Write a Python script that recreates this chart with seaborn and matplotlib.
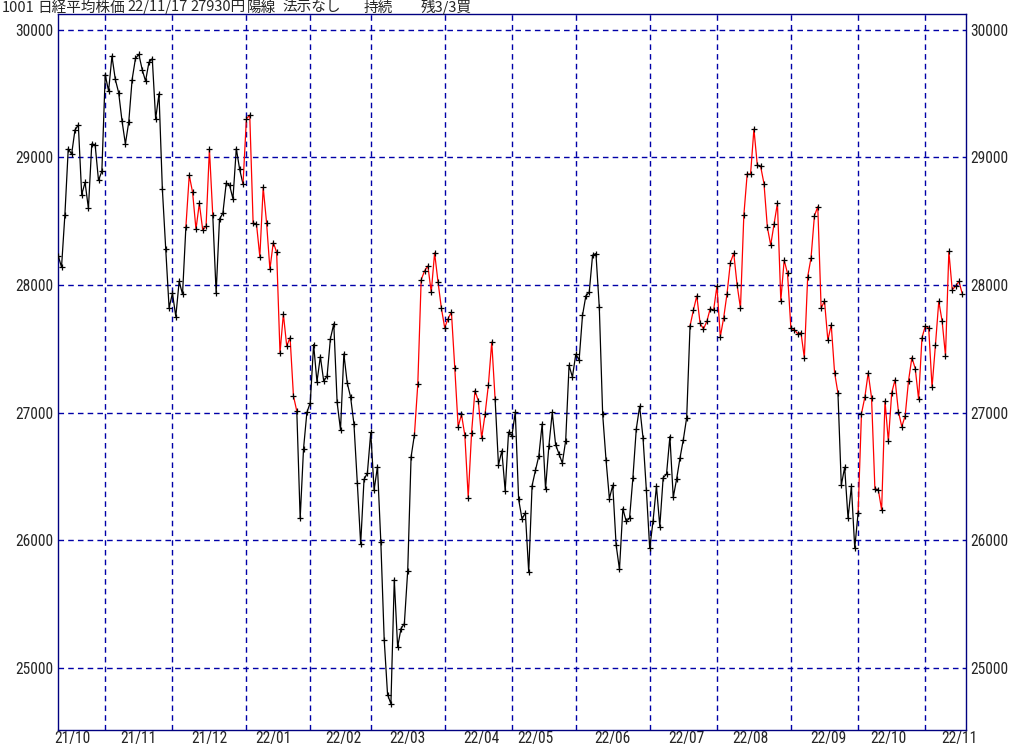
import numpy as np
import pandas as pd
import matplotlib
matplotlib.use("Agg")
import matplotlib.pyplot as plt
from matplotlib import font_manager as fm
import seaborn as sns

# ---- data: daily closes (Nikkei 225), by month ----
oct21 = [28230, 28140, 28550, 29068, 29025, 29215, 29255, 28708, 28804, 28600, 29106, 29098, 28820, 28892]
nov21 = [29647, 29520, 29794, 29611, 29507, 29285, 29106, 29277, 29610, 29776, 29808, 29688, 29598, 29745,
         29774, 29302, 29499, 28751, 28283, 27821]
dec21 = [27935, 27753, 28029, 27927, 28455, 28860, 28725, 28437, 28640, 28432, 28459, 29066, 28545, 27937,
         28517, 28562, 28798, 28782, 28676, 29069, 28906, 28791]
jan22 = [29301, 29332, 28487, 28478, 28222, 28765, 28489, 28124, 28333, 28257, 27467, 27772, 27522, 27588,
         27131, 27011, 26170, 26717, 27001]
feb22 = [27078, 27533, 27241, 27439, 27248, 27284, 27579, 27696, 27079, 26865, 27460, 27232, 27122, 26910,
         26449, 25970, 26476, 26526]
mar22 = [26844, 26393, 26577, 25985, 25221, 24790, 24717, 25690, 25162, 25307, 25346, 25762, 26652, 26827,
         27224, 28040, 28110, 28149, 27943, 28252, 28027, 27821]
apr22 = [27665, 27736, 27787, 27350, 26889, 26985, 26821, 26334, 26843, 27172, 27093, 26799, 26985, 27217,
         27553, 27105, 26590, 26700, 26386, 26847]
may22 = [26818, 27003, 26319, 26167, 26213, 25748, 26427, 26547, 26659, 26911, 26402, 26739, 27001, 26748,
         26677, 26604, 26781, 27369, 27279]
jun22 = [27457, 27413, 27761, 27915, 27943, 28234, 28246, 27824, 26987, 26629, 26326, 26431, 25963, 25771,
         26246, 26149, 26171, 26491, 26871, 27049, 26804, 26393]
jul22 = [25935, 26153, 26423, 26107, 26490, 26517, 26812, 26336, 26478, 26643, 26788, 26961, 27680, 27803,
         27914, 27699, 27655, 27715, 27815, 27801]
aug22 = [27993, 27594, 27742, 27932, 28176, 28249, 27999, 27819, 28546, 28871, 28868, 29222, 28942, 28930,
         28794, 28452, 28313, 28479, 28641, 27878, 28195, 28091]
sep22 = [27661, 27650, 27619, 27626, 27430, 28065, 28214, 28542, 28614, 27818, 27875, 27567, 27688, 27313,
         27153, 26431, 26571, 26173, 26422, 25937]
oct22 = [26215, 26992, 27120, 27311, 27116, 26401, 26397, 26237, 27090, 26775, 27156, 27257, 27006, 26890,
         26974, 27250, 27431, 27345, 27105, 27587]
nov22 = [27678, 27663, 27199, 27527, 27872, 27716, 27446, 28263, 27963, 27990, 28028, 27930]

months = [oct21, nov21, dec21, jan22, feb22, mar22, apr22, may22, jun22, jul22, aug22, sep22, oct22, nov22]
month_labels = ["21/10", "21/11", "21/12", "22/01", "22/02", "22/03", "22/04",
                "22/05", "22/06", "22/07", "22/08", "22/09", "22/10", "22/11"]
# label centres (trading-day index) as placed on the reference
label_pos = [4.1, 24.0, 45.1, 64.1, 84.8, 104.0, 125.9, 142.0, 165.0, 186.9, 206.0, 229.1, 247.1, 268.1]
# trading-day index ranges (segment end) where the signal is "red"
red_spans = [(39, 46), (56, 71), (107, 130), (189, 232), (239, 269)]

yticks = [25000, 26000, 27000, 28000, 29000, 30000]
title_parts = [("1001", 2), ("日経平均株価", 37), ("22/11/17", 127), ("27930円", 190),
               ("陽線", 247), ("法示なし", 282), ("持続", 364), ("残3/3買", 421)]

# ---- build frames ----
close = np.concatenate([np.array(m, dtype=float) for m in months])
n = len(close)
idx = np.arange(n)
month_start = np.cumsum([0] + [len(m) for m in months[:-1]])

state = np.array(["black"] * n, dtype=object)
for a, b in red_spans:
    state[a:b + 1] = "red"

rows = []
run = 0
cur = None
for i in range(1, n):
    c = state[i]
    if c != cur:
        run += 1
        cur = c
        rows.append((run, c, idx[i - 1], close[i - 1]))
    rows.append((run, c, idx[i], close[i]))
seg = pd.DataFrame(rows, columns=["run", "color", "x", "y"])
pts = pd.DataFrame({"x": idx, "y": close})

# ---- fonts ----
names = {f.name for f in fm.fontManager.ttflist}
narrow = None
for cand in ["Liberation Sans Narrow", "DejaVu Sans Condensed", "Roboto Condensed", "Open Sans Condensed"]:
    if cand in names:
        narrow = cand
        break
tick_font = [narrow, "DejaVu Sans"] if narrow else ["DejaVu Sans"]
tick_size = 11.2 if narrow else 8.0

sns.set_style("white")
plt.rcParams["font.family"] = ["Noto Sans CJK JP", "DejaVu Sans"]

fig = plt.figure(figsize=(10.24, 7.45), dpi=100)
ax = fig.add_axes([58 / 1024, 15 / 745, (966 - 58) / 1024, (730.5 - 14.5) / 745])

sns.lineplot(data=seg, x="x", y="y", hue="color", units="run", estimator=None, sort=False,
             palette={"red": "#ff0000", "black": "#000000"}, linewidth=0.9, legend=False, ax=ax, zorder=2)
sns.scatterplot(data=pts, x="x", y="y", marker="+", color="black", s=16, linewidth=0.9, ax=ax, zorder=3)

ax.set_xlim(-0.05, 270.1)
ax.set_ylim(24512, 30124)
ax.set_xlabel("")
ax.set_ylabel("")

ax.set_xticks(month_start[1:])
ax.set_xticklabels([])
ax.set_xticks(label_pos, minor=True)
ax.set_xticklabels(month_labels, minor=True, fontfamily=tick_font, fontsize=tick_size)
ax.set_yticks(yticks)
ax.set_yticklabels([str(v) for v in yticks], fontfamily=tick_font, fontsize=tick_size)
ax.tick_params(axis="y", which="both", length=0, pad=3, labelright=True, labelleft=True)
ax.tick_params(axis="x", which="both", length=0, pad=1)
for lab in ax.get_yticklabels():
    lab.set_fontfamily(tick_font)

ax.grid(True, which="major", color="#0000a8", linestyle=(0, (4, 3)), linewidth=1.0)
for s in ax.spines.values():
    s.set_color("#000080")
    s.set_linewidth(1.0)

for txt, px in title_parts:
    fig.text(px / 1024, 1 - 7.5 / 745, txt, ha="left", va="center", fontsize=10.5,
             family=["Noto Sans CJK JP", "DejaVu Sans"])

fig.savefig("out.png", dpi=100, facecolor="white")
